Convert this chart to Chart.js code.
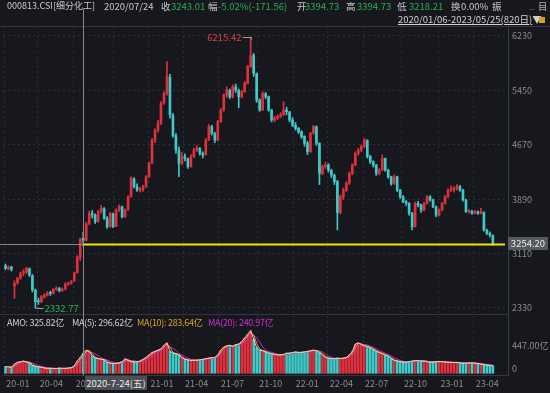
<!DOCTYPE html>
<html><head><meta charset="utf-8">
<script src="https://cdn.jsdelivr.net/npm/chart.js@4.4.1/dist/chart.umd.min.js"></script>
<style>
html,body{margin:0;padding:0;background:#16181d;}
#wrap{position:relative;width:550px;height:393px;overflow:hidden;background:#16181d;font-family:"Noto Sans CJK SC","Noto Sans",sans-serif;}
#c{position:absolute;left:0;top:0;}
.t{position:absolute;white-space:nowrap;font-size:9.5px;line-height:12px;top:0;color:#c9c9c9;}
.g{color:#27b052;}
.s{font-size:9px;letter-spacing:-0.3px;top:317px;}
</style></head><body>
<div id="wrap">
<canvas id="c" width="550" height="393"></canvas>
<span class="t" style="left:7px;font-size:9px">000813.CSI[细分化工]</span>
<span class="t" style="left:104px">2020/07/24</span>
<span class="t" style="left:161px">收</span><span class="t g" style="left:171px">3243.01</span>
<span class="t" style="left:208px">幅</span><span class="t g" style="left:218px">-5.02%(-171.56)</span>
<span class="t" style="left:297px">开</span><span class="t g" style="left:305px">3394.73</span>
<span class="t" style="left:346px">高</span><span class="t g" style="left:357px">3394.73</span>
<span class="t" style="left:397px">低</span><span class="t g" style="left:409px">3218.21</span>
<span class="t" style="left:451px">换</span><span class="t" style="left:461px">0.00%</span>
<span class="t" style="left:492px">振</span>
<span class="t" style="left:529px;color:#e03030;top:-2px">_</span>
<span class="t" style="left:538px;color:#b0b0b0">目</span>
<span class="t" style="left:398px;top:13px;font-size:9.5px;color:#d0d0d0"><u>2020/01/06-2023/05/25(820日)</u>▼</span>
<div style="position:absolute;left:539px;top:17px;width:6px;height:6px;background:#d89a20"></div>
<span class="t s" style="left:7px;color:#d0d0d0">AMO: 325.82亿</span>
<span class="t s" style="left:72px;color:#d0d0d0">MA(5): 296.62亿</span>
<span class="t s" style="left:137px;color:#e0a020">MA(10): 283.64亿</span>
<span class="t s" style="left:208px;color:#d030d0">MA(20): 240.97亿</span>
<div style="position:absolute;left:85px;top:376px;width:62px;height:14px;background:#4b4e55;color:#e8e8e8;font-size:9.5px;line-height:14px;text-align:center;">2020-7-24(五)</div>
<div style="position:absolute;left:508px;top:237px;width:40px;height:13px;background:#565960;color:#ececec;font-size:9.5px;line-height:13px;text-align:center;">3254.20</div>
</div>
<script>
// weekly candles (each = 5 trading days), 2020/01/06 - 2023/05/25
const opens = [2935,2895,2915,2640,2690,2760,2830,2845,2890,2790,
2580,2425,2420,2490,2515,2545,2540,2600,2610,2580,
2600,2675,2685,2720,2835,3050,3330,3300,3540,3690,
3660,3570,3715,3755,3610,3500,3680,3500,3740,3780,
3640,3740,3930,4180,4070,4020,4025,4070,4215,4410,
4740,4880,4980,5270,5410,5640,5090,4800,4590,4400,
4500,4470,4360,4500,4600,4620,4545,4530,4740,4930,
4830,4740,5000,5170,5385,5450,5360,5500,5450,5360,
5430,5550,5790,5950,5690,5310,5170,5400,5360,5165,
5025,5050,5075,5100,5170,5140,5025,4950,4905,4860,
4790,4690,4570,4835,4930,4690,4260,4355,4380,4300,
4230,4140,3700,3925,4020,4120,4260,4380,4550,4595,
4645,4735,4500,4430,4380,4260,4310,4475,4305,4210,
4115,4210,4020,3925,3855,3830,3685,3500,3830,3805,
3735,3830,3925,3880,3780,3660,3735,3830,3925,4020,
4025,4045,4070,4020,3875,3710,3710,3690,3710,3690,
3700,3445,3400,3370];
const highs = [2960,2935,2930,2720,2770,2845,2880,2915,2905,2810,
2600,2470,2510,2535,2565,2570,2610,2635,2625,2615,
2690,2700,2725,2840,3080,3330,3420,3560,3720,3730,
3680,3730,3800,3770,3640,3700,3690,3750,3810,3790,
3750,3940,4210,4200,4110,4060,4090,4230,4420,4760,
4900,5020,5290,5430,5862,5680,5120,4830,4640,4560,
4540,4480,4530,4620,4660,4630,4570,4760,4960,4950,
4850,5020,5190,5400,5500,5470,5530,5540,5470,5450,
5580,5810,6215.42,5980,5700,5330,5430,5420,5370,5180,
5080,5100,5130,5290,5210,5150,5060,4990,4920,4870,
4800,4720,4850,4950,4940,4700,4380,4420,4400,4320,
4250,4160,3950,4050,4140,4280,4400,4570,4620,4670,
4762,4740,4520,4440,4390,4330,4525,4480,4320,4220,
4240,4220,4030,3940,3870,3840,3700,3850,3860,3820,
3850,3940,3940,3890,3790,3750,3840,3940,4040,4080,
4070,4100,4090,4030,3890,3740,3730,3730,3720,3760,
3710,3460,3420,3380];
const lows = [2880,2875,2860,2468,2670,2740,2790,2820,2780,2560,
2332.77,2380,2405,2470,2500,2510,2530,2580,2560,2565,
2590,2650,2670,2715,2830,3010,3218,3290,3520,3620,
3540,3560,3690,3600,3470,3490,3480,3495,3710,3620,
3630,3730,3920,4050,4000,3990,4000,4060,4200,4400,
4700,4850,4960,5250,5380,5050,4780,4550,4213,4380,
4440,4330,4350,4490,4570,4520,4480,4520,4730,4810,
4700,4730,4990,5150,5350,5330,5340,5420,5200,5340,
5420,5540,5780,5650,5280,5150,5160,5330,5150,5000,
5000,5030,5060,5090,5100,5000,4930,4880,4830,4760,
4650,4530,4560,4820,4660,4100,4240,4330,4280,4200,
4100,3450,3680,3880,4000,4100,4240,4370,4520,4570,
4630,4480,4400,4350,4230,4240,4300,4290,4190,4090,
4100,4000,3900,3840,3800,3660,3450,3490,3780,3700,
3720,3820,3860,3770,3640,3650,3720,3820,3910,4000,
3990,4020,4000,3860,3700,3690,3670,3680,3670,3680,
3430,3380,3350,3230];
const closes = [2898,2913,2884,2683,2755,2827,2850,2898,2803,2588,
2420,2420,2492,2516,2540,2540,2597,2612,2578,2597,
2674,2683,2707,2830,3060,3320,3300,3540,3687,3663,
3568,3711,3759,3615,3496,3687,3496,3735,3783,3639,
3735,3926,4189,4069,4022,4022,4069,4213,4404,4739,
4882,4978,5264,5408,5650,5100,4800,4595,4404,4500,
4476,4356,4500,4595,4619,4547,4524,4739,4930,4834,
4739,5002,5169,5384,5456,5360,5503,5456,5360,5432,
5551,5790,5950,5695,5312,5169,5408,5360,5169,5025,
5049,5073,5097,5169,5145,5025,4954,4906,4858,4786,
4691,4571,4834,4930,4691,4260,4356,4380,4308,4237,
4141,3700,3926,4022,4117,4261,4380,4547,4595,4643,
4739,4500,4428,4380,4261,4308,4476,4308,4213,4117,
4213,4022,3926,3854,3830,3687,3496,3830,3806,3735,
3830,3926,3878,3783,3663,3735,3830,3926,4022,4022,
4046,4069,4022,3878,3711,3711,3687,3711,3687,3711,
3448,3400,3376,3250];
// average daily turnover (亿) per week
const amounts = [110,105,100,150,180,190,200,185,170,130,
115,105,100,85,80,82,80,78,85,80,
82,85,95,120,200,260,330,380,360,290,
250,240,230,220,180,165,160,165,170,190,
240,210,190,185,190,200,230,260,300,340,
360,380,400,460,500,360,330,320,300,250,
230,220,210,215,215,220,230,240,250,255,
260,300,380,430,450,460,440,470,480,520,
580,640,700,560,420,380,370,350,330,320,
310,300,300,310,330,330,340,350,340,345,
350,360,370,380,370,340,300,260,250,240,
240,250,240,250,260,300,360,480,500,470,
450,440,420,390,360,340,320,300,280,240,
210,200,190,185,180,190,200,210,205,200,
200,190,180,185,190,195,190,185,180,180,
175,180,170,165,165,170,170,165,160,150,
140,135,130,125];
// x axis: trading-day index of each quarter start
const quarterDays = [0,56,116,182,241,299,359,423,484,541,600,665,726,785];
const quarterLabels = ['20-01','20-04','20-07','20-10','21-01','21-04','21-07','21-10','22-01','22-04','22-07','22-10','23-01','23-04'];
const priceTicks = [6230,5450,4670,3890,3110,2330];
const volTick = 447;
const crossDay = 132;      // 2020-07-24
const crossPrice = 3254.20;

const DAYS_PER_CANDLE = 5;
const xs = closes.map((_, i) => i * DAYS_PER_CANDLE + 2);
const UP = '#e0303c', DOWN = '#3fc9c9';
const colors = closes.map((c, i) => c >= opens[i] ? UP : DOWN);
function movingAvg(arr, n) {
  return arr.map((_, i) => {
    if (i < n - 1) return null;
    let s = 0; for (let j = i - n + 1; j <= i; j++) s += arr[j];
    return s / n;
  });
}
const ma5 = movingAvg(amounts, 1), ma10 = movingAvg(amounts, 2), ma20 = movingAvg(amounts, 4);
const pts = arr => arr.map((v, i) => ({x: xs[i], y: v}));

Chart.defaults.font.family = '"Noto Sans CJK SC","Noto Sans",sans-serif';

const overlay = {
  id: 'overlay',
  afterDraw(chart) {
    const {ctx, chartArea: a, scales: {x, y, yv}} = chart;
    const line = (x1, y1, x2, y2) => { ctx.beginPath(); ctx.moveTo(x1, y1); ctx.lineTo(x2, y2); ctx.stroke(); };
    ctx.save();
    ctx.lineWidth = 1;
    ctx.strokeStyle = '#34373e';
    line(0, 26.5, 550, 26.5);
    line(0, 314.5, a.right, 314.5);
    // crosshair
    const cx = Math.round(x.getPixelForValue(crossDay)) + 0.5;
    const cy = Math.round(y.getPixelForValue(crossPrice)) + 0.5;
    ctx.strokeStyle = '#85888f';
    line(cx, 9, cx, a.bottom);
    line(0, cy, cx, cy);
    ctx.strokeStyle = '#f4e600'; ctx.lineWidth = 2;
    line(cx, cy, a.right - 3, cy);
    // high / low annotations
    ctx.lineWidth = 1;
    ctx.font = '9.5px "Noto Sans CJK SC","Noto Sans",sans-serif';
    ctx.textBaseline = 'middle';
    let hi = 0, lo = 0;
    highs.forEach((v, i) => { if (v > highs[hi]) hi = i; });
    lows.forEach((v, i) => { if (v < lows[lo]) lo = i; });
    let px = Math.round(x.getPixelForValue(xs[hi])) + 0.5, py = Math.round(y.getPixelForValue(highs[hi])) + 0.5;
    ctx.strokeStyle = '#9a9da3';
    line(px, py + 2, px, py); line(px, py, px - 9, py);
    ctx.fillStyle = '#d8404c'; ctx.textAlign = 'right';
    ctx.fillText(highs[hi].toFixed(2), px - 10, py);
    px = Math.round(x.getPixelForValue(xs[lo])) + 0.5; py = Math.round(y.getPixelForValue(lows[lo])) + 0.5;
    line(px, py, px + 8, py);
    ctx.fillStyle = '#2fae55'; ctx.textAlign = 'left';
    ctx.fillText(lows[lo].toFixed(2), px + 9, py);
    // volume axis labels
    ctx.fillStyle = '#8c8c8c'; ctx.font = '9px "Noto Sans CJK SC","Noto Sans",sans-serif';
    ctx.fillText(volTick.toFixed(2) + '亿', a.right + 4, yv.getPixelForValue(volTick));
    ctx.fillText('0', a.right + 4, yv.getPixelForValue(0) - 5);
    ctx.restore();
  }
};

new Chart(document.getElementById('c'), {
  type: 'bar',
  data: {
    datasets: [
      {type: 'line', data: pts(ma5), yAxisID: 'yv', borderColor: '#d6d6d6', borderWidth: 1, pointRadius: 0},
      {type: 'line', data: pts(ma10), yAxisID: 'yv', borderColor: '#e0a020', borderWidth: 1, pointRadius: 0},
      {type: 'line', data: pts(ma20), yAxisID: 'yv', borderColor: '#d020d0', borderWidth: 1, pointRadius: 0},
      {data: pts(amounts), yAxisID: 'yv', backgroundColor: colors, barThickness: 2, grouped: false},
      {data: closes.map((c, i) => ({x: xs[i], y: [opens[i], c]})), yAxisID: 'y', backgroundColor: colors, barThickness: 2, minBarLength: 1, grouped: false},
      {data: closes.map((c, i) => ({x: xs[i], y: [lows[i], highs[i]]})), yAxisID: 'y', backgroundColor: colors, barThickness: 1, grouped: false}
    ]
  },
  options: {
    responsive: false, animation: false,
    layout: {autoPadding: false, padding: {top: 26, left: 3, right: 0, bottom: 0}},
    plugins: {legend: {display: false}, tooltip: {enabled: false}},
    scales: {
      x: {
        type: 'linear', min: -2.17, max: 842.3, offset: false,
        grid: {color: '#2c2f36', drawTicks: false, offset: false},
        border: {color: '#34373e', dash: [2, 3]},
        afterBuildTicks: s => { s.ticks = quarterDays.map(v => ({value: v})); },
        afterFit: s => { s.height = 18; s.paddingLeft = 0; s.paddingRight = 0; },
        ticks: {color: '#8c8c8c', font: {size: 9}, align: 'start', labelOffset: 2, padding: 3, autoSkip: false, maxRotation: 0,
          callback: (v, i) => quarterLabels[i]}
      },
      y: {
        position: 'right', min: 1368.7, max: 6373.4,
        grid: {color: '#2c2f36', drawTicks: false},
        border: {color: '#3a3d44', dash: [2, 3]},
        afterBuildTicks: s => { s.ticks = priceTicks.map(v => ({value: v})); },
        afterFit: s => { s.width = 42; s.paddingTop = 0; s.paddingBottom = 0; },
        ticks: {color: '#8c8c8c', font: {size: 9}, padding: 4, callback: v => String(v)}
      },
      yv: {position: 'right', display: false, min: -27.9, max: 5696}
    }
  },
  plugins: [overlay]
});
</script>
</body></html>
